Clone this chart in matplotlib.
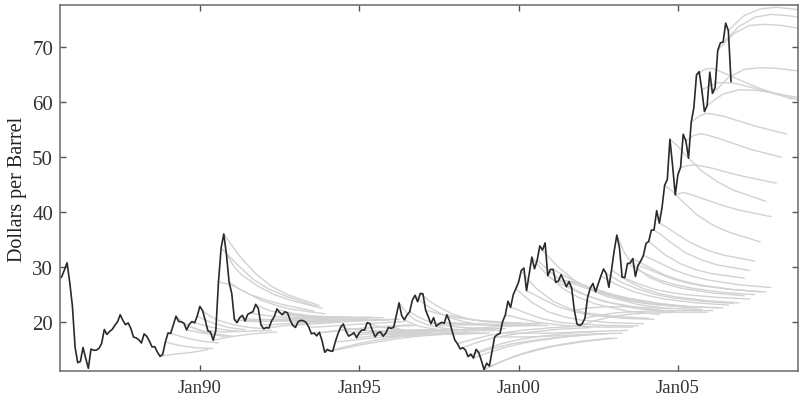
import matplotlib
matplotlib.use("Agg")
import matplotlib.pyplot as plt

plt.rcParams['font.family'] = ['Liberation Serif', 'DejaVu Serif']

# monthly spot price, Jul 1985 .. Sep 2006
spot_start = (1985, 7)
spot = [
    27.3, 27.8, 28.3, 29.5, 30.8, 27.2,
    22.93, 15.46, 12.61, 12.84, 15.38, 13.43, 11.59, 15.10, 14.87, 14.90, 15.22, 16.11,
    18.65, 17.75, 18.30, 18.68, 19.44, 20.07, 21.34, 20.31, 19.53, 19.86, 18.85, 17.28,
    17.13, 16.80, 16.20, 17.86, 17.42, 16.53, 15.50, 15.52, 14.54, 13.77, 14.14, 16.38,
    18.02, 17.94, 19.48, 21.07, 20.12, 20.05, 19.78, 18.58, 19.59, 20.10, 19.86, 21.10,
    22.86, 22.11, 20.39, 18.43, 18.20, 16.70, 18.45, 27.31, 33.51, 36.04, 32.33, 27.28,
    25.23, 20.48, 19.90, 20.83, 21.23, 20.19, 21.40, 21.69, 21.89, 23.23, 22.46, 19.50,
    18.79, 19.01, 18.92, 20.23, 20.98, 22.39, 21.78, 21.34, 21.88, 21.69, 20.34, 19.41,
    19.03, 20.09, 20.32, 20.25, 19.95, 19.09, 17.89, 18.01, 17.50, 18.15, 16.61, 14.52,
    15.03, 14.78, 14.68, 16.42, 17.89, 19.06, 19.66, 18.38, 17.45, 17.72, 18.07, 17.16,
    18.04, 18.57, 18.54, 19.90, 19.74, 18.45, 17.33, 18.02, 18.23, 17.43, 17.99, 19.03,
    18.85, 19.09, 21.33, 23.50, 21.17, 20.42, 21.30, 21.90, 23.97, 24.88, 23.71, 25.23,
    25.13, 22.18, 20.97, 19.70, 20.82, 19.26, 19.66, 19.95, 19.80, 21.33, 20.19, 18.33,
    16.72, 16.06, 15.12, 15.35, 14.91, 13.72, 14.17, 13.47, 15.03, 14.46, 13.00, 11.35,
    12.52, 12.01, 14.68, 17.31, 17.72, 17.92, 20.10, 21.28, 23.80, 22.69, 25.00, 26.10,
    27.26, 29.37, 29.84, 25.72, 28.79, 31.82, 29.70, 31.26, 33.88, 33.11, 34.42, 28.44,
    29.59, 29.61, 27.25, 27.49, 28.63, 27.60, 26.43, 27.37, 26.20, 22.17, 19.64, 19.39,
    19.72, 20.72, 24.53, 26.18, 27.04, 25.52, 26.97, 28.39, 29.66, 28.84, 26.35, 29.46,
    32.95, 35.83, 33.51, 28.17, 28.11, 30.66, 30.75, 31.57, 28.31, 30.34, 31.11, 32.13,
    34.31, 34.69, 36.74, 36.75, 40.28, 38.03, 40.78, 44.90, 45.94, 53.28, 48.47, 43.15,
    46.84, 48.15, 54.19, 52.98, 49.83, 56.35, 59.00, 64.99, 65.59, 62.26, 58.32, 59.41,
    65.49, 61.63, 62.69, 69.44, 70.84, 70.95, 74.41, 73.04, 63.80,
]

# futures curves: maturities in years (0 = spot that month)
maturities = [0, 0.25, 0.5, 1, 1.5, 2, 3, 4]
curve_months = [
    (1988, 10), (1988, 12),
    (1989, 2), (1989, 4), (1989, 6), (1989, 8), (1989, 10), (1989, 12),
    (1990, 2), (1990, 4), (1990, 6), (1990, 8), (1990, 9), (1990, 10), (1990, 11), (1990, 12),
    (1991, 2), (1991, 4), (1991, 6), (1991, 8), (1991, 10), (1991, 12),
    (1992, 2), (1992, 4), (1992, 6), (1992, 8), (1992, 10), (1992, 12),
    (1993, 2), (1993, 4), (1993, 6), (1993, 8), (1993, 10), (1993, 12),
    (1994, 2), (1994, 4), (1994, 6), (1994, 8), (1994, 10), (1994, 12),
    (1995, 2), (1995, 4), (1995, 6), (1995, 8), (1995, 10), (1995, 12),
    (1996, 2), (1996, 4), (1996, 6), (1996, 8), (1996, 10), (1996, 12),
    (1997, 2), (1997, 4), (1997, 6), (1997, 8), (1997, 10), (1997, 12),
    (1998, 2), (1998, 4), (1998, 6), (1998, 8), (1998, 10), (1998, 12),
    (1999, 2), (1999, 4), (1999, 6), (1999, 8), (1999, 10), (1999, 12),
    (2000, 2), (2000, 4), (2000, 6), (2000, 8), (2000, 10), (2000, 12),
    (2001, 2), (2001, 4), (2001, 6), (2001, 8), (2001, 10), (2001, 12),
    (2002, 2), (2002, 4), (2002, 6), (2002, 8), (2002, 10), (2002, 12),
    (2003, 2), (2003, 4), (2003, 6), (2003, 8), (2003, 10), (2003, 12),
    (2004, 2), (2004, 4), (2004, 6), (2004, 8), (2004, 10), (2004, 12),
    (2005, 2), (2005, 4), (2005, 6), (2005, 8), (2005, 10), (2005, 12),
    (2006, 2), (2006, 4), (2006, 6), (2006, 8),
]
curve_values = [
    [14.0, 14.2, 14.5, 15.0], [16.0, 15.7, 15.3, 15.2],
    [17.5, 17.1, 16.5, 16.2], [19.8, 19.0, 17.9, 17.4], [19.3, 18.7, 17.9, 17.5],
    [18.3, 18.0, 17.6, 17.4], [19.6, 19.2, 18.6, 18.3], [20.4, 19.8, 19.0, 18.6],
    [21.0, 20.3, 19.5, 19.0, 18.8], [18.3, 18.2, 18.3, 18.4, 18.5], [17.0, 17.3, 17.7, 18.0, 18.2],
    [27.0, 26.5, 25.0, 24.0, 23.2, 22.0], [32.0, 30.5, 27.8, 26.0, 24.8, 22.8],
    [34.0, 32.0, 28.8, 26.5, 25.0, 23.0], [30.0, 28.5, 26.5, 25.0, 24.0, 22.5],
    [26.3, 25.5, 24.0, 23.0, 22.3, 21.5],
    [20.3, 20.3, 20.4, 20.5, 20.6, 20.8], [20.6, 20.5, 20.5, 20.5, 20.6, 20.7],
    [20.1, 20.1, 20.2, 20.3, 20.4, 20.6], [21.4, 21.2, 20.9, 20.8, 20.8, 20.8],
    [22.5, 22.0, 21.4, 21.1, 21.0, 20.9], [19.5, 19.6, 19.8, 20.0, 20.2, 20.5],
    [19.1, 19.3, 19.6, 19.9, 20.1, 20.4], [20.2, 20.2, 20.2, 20.3, 20.4, 20.6],
    [21.9, 21.6, 21.2, 21.0, 20.9, 20.9], [21.2, 21.1, 20.9, 20.8, 20.8, 20.8],
    [21.4, 21.2, 20.9, 20.8, 20.8, 20.8], [19.5, 19.6, 19.8, 20.0, 20.2, 20.4],
    [20.0, 20.0, 20.1, 20.2, 20.3, 20.5], [20.2, 20.2, 20.2, 20.3, 20.4, 20.5],
    [19.1, 19.2, 19.4, 19.6, 19.8, 20.1], [18.1, 18.3, 18.6, 18.9, 19.1, 19.5],
    [18.2, 18.4, 18.7, 18.9, 19.1, 19.4], [14.9, 15.3, 16.0, 16.6, 17.1, 17.9],
    [15.0, 15.3, 15.9, 16.4, 16.9, 17.6], [16.5, 16.7, 17.0, 17.3, 17.6, 18.1],
    [18.8, 18.6, 18.4, 18.4, 18.5, 18.7], [18.2, 18.1, 18.1, 18.2, 18.3, 18.5],
    [17.7, 17.8, 18.0, 18.2, 18.3, 18.5], [17.3, 17.5, 17.8, 18.0, 18.2, 18.4],
    [18.4, 18.3, 18.2, 18.2, 18.3, 18.5], [19.4, 19.0, 18.6, 18.5, 18.5, 18.6],
    [18.2, 18.0, 17.9, 17.9, 18.0, 18.2], [17.8, 17.7, 17.7, 17.8, 17.9, 18.1],
    [17.4, 17.4, 17.5, 17.6, 17.8, 18.0], [18.6, 18.3, 18.0, 17.9, 17.9, 18.0],
    [18.6, 18.3, 17.9, 17.8, 17.8, 18.0], [21.6, 20.4, 19.3, 18.8, 18.6, 18.6],
    [19.7, 19.2, 18.7, 18.5, 18.4, 18.5], [21.0, 20.3, 19.5, 19.1, 18.9, 18.8],
    [23.5, 22.5, 21.0, 20.1, 19.6, 19.2], [24.0, 23.0, 21.5, 20.6, 20.1, 19.6],
    [21.8, 21.4, 20.8, 20.4, 20.1, 19.8], [19.8, 19.8, 19.7, 19.6, 19.5, 19.4],
    [19.4, 19.5, 19.5, 19.5, 19.5, 19.5], [19.9, 19.8, 19.7, 19.6, 19.5, 19.5],
    [21.0, 20.7, 20.3, 20.1, 19.9, 19.7], [18.6, 18.8, 19.0, 19.2, 19.3, 19.4],
    [16.5, 16.9, 17.6, 18.1, 18.5, 19.0, 19.3], [15.9, 16.4, 17.2, 17.7, 18.1, 18.7, 19.0],
    [14.4, 15.0, 16.0, 16.7, 17.2, 17.9, 18.3], [14.0, 14.5, 15.4, 16.1, 16.6, 17.4, 17.9],
    [14.9, 15.3, 16.0, 16.5, 16.9, 17.5, 17.9], [12.0, 12.7, 13.9, 14.8, 15.5, 16.5, 17.1],
    [12.5, 13.1, 14.1, 14.9, 15.6, 16.5, 17.1], [17.3, 17.3, 17.3, 17.4, 17.5, 17.8, 18.0],
    [18.0, 18.0, 18.0, 18.0, 18.1, 18.3, 18.5], [21.0, 20.6, 20.0, 19.6, 19.3, 19.1, 19.1],
    [22.2, 21.6, 20.6, 20.0, 19.7, 19.4, 19.3], [24.8, 23.6, 21.9, 21.0, 20.4, 19.9, 19.7],
    [27.5, 26.0, 23.8, 22.5, 21.7, 21.0, 20.7], [25.0, 24.2, 22.8, 21.9, 21.3, 20.7, 20.5],
    [30.0, 28.5, 26.0, 24.4, 23.3, 22.0, 21.4], [30.0, 28.7, 26.5, 25.0, 23.9, 22.6, 21.9],
    [31.5, 30.0, 27.6, 25.9, 24.7, 23.2, 22.4], [27.5, 26.7, 25.3, 24.3, 23.5, 22.5, 21.9],
    [28.8, 28.0, 26.6, 25.5, 24.7, 23.5, 22.8], [27.3, 26.9, 25.9, 25.0, 24.3, 23.3, 22.7],
    [27.4, 27.0, 26.0, 25.1, 24.4, 23.4, 22.8], [27.1, 26.6, 25.6, 24.8, 24.1, 23.2, 22.6],
    [22.4, 22.6, 22.8, 22.8, 22.7, 22.5, 22.3], [19.8, 20.3, 21.0, 21.4, 21.6, 21.8, 21.8],
    [21.0, 21.3, 21.7, 21.9, 22.0, 22.1, 22.1], [25.8, 25.2, 24.2, 23.6, 23.2, 22.8, 22.6],
    [25.2, 24.8, 24.0, 23.5, 23.1, 22.8, 22.6], [27.6, 26.8, 25.6, 24.8, 24.2, 23.5, 23.1],
    [28.0, 27.2, 26.0, 25.1, 24.5, 23.8, 23.4], [28.5, 27.5, 26.1, 25.2, 24.6, 23.9, 23.5],
    [32.5, 30.5, 28.2, 27.0, 26.2, 25.3, 24.8], [27.6, 27.0, 26.0, 25.4, 25.0, 24.5, 24.2],
    [29.8, 29.0, 27.7, 26.8, 26.2, 25.4, 25.0], [30.8, 30.0, 28.6, 27.6, 26.9, 26.0, 25.5],
    [29.8, 29.2, 28.0, 27.2, 26.6, 25.9, 25.5], [31.5, 30.8, 29.4, 28.4, 27.7, 26.8, 26.3],
    [33.5, 32.3, 30.6, 29.5, 28.8, 28.0], [35.8, 34.6, 32.6, 31.3, 30.4, 29.4],
    [37.2, 36.2, 34.4, 33.1, 32.2, 31.1], [43.8, 42.3, 39.6, 37.7, 36.4, 34.6],
    [52.0, 50.3, 47.5, 45.5, 44.0, 42.0], [43.6, 43.2, 42.2, 41.2, 40.4, 39.2],
    [48.5, 48.6, 48.0, 47.2, 46.5, 45.3], [54.0, 54.3, 53.5, 52.5, 51.5, 50.0],
    [57.5, 58.0, 57.5, 56.6, 55.7, 54.2], [66.0, 66.2, 65.0, 63.7, 62.5, 60.6],
    [63.0, 63.6, 63.5, 62.8, 62.0, 60.5], [60.5, 61.5, 62.3, 62.2, 61.8, 60.7],
    [63.0, 64.5, 66.0, 66.3, 66.2, 65.5], [71.0, 72.5, 74.0, 74.2, 74.0, 73.0],
    [72.3, 73.8, 75.5, 76.0, 75.8, 75.0], [74.5, 75.8, 77.0, 77.3, 77.0, 76.2],
]

year_ticks = [1990, 1995, 2000, 2005]
year_labels = ['Jan90', 'Jan95', 'Jan00', 'Jan05']
price_ticks = [20, 30, 40, 50, 60, 70]


def month_pos(year, month):
    return year + (month - 1) / 12.0


t0 = month_pos(*spot_start)
spot_x = [t0 + i / 12.0 for i in range(len(spot))]

fig = plt.figure(figsize=(8.04, 4.06), dpi=100)
ax = fig.add_axes([0.0746, 0.0837, 0.918, 0.9013])

# futures curves first, spot on top
for (yr, mo), vals in zip(curve_months, curve_values):
    start = month_pos(yr, mo)
    idx = (yr - spot_start[0]) * 12 + (mo - spot_start[1])
    xs = [start + m for m in maturities[:len(vals) + 1]]
    ys = [spot[idx]] + vals
    ax.plot(xs, ys, color='#d2d2d2', linewidth=1.0, solid_capstyle='round')

ax.plot(spot_x, spot, color='#2a2a2a', linewidth=1.2)

ax.set_xlim(1985.61, 2008.77)
ax.set_ylim(11.1, 77.7)
ax.set_xticks(year_ticks)
ax.set_xticklabels(year_labels)
ax.set_yticks(price_ticks)
ax.set_ylabel('Dollars per Barrel', fontsize=14.5, labelpad=4, color='#222222')

ax.tick_params(direction='in', length=4, width=1, color='#555555',
               top=True, right=True, labelcolor='#333333')
ax.tick_params(axis='x', labelsize=13.5, pad=6)
ax.tick_params(axis='y', labelsize=15, pad=5)
for side in ax.spines.values():
    side.set_color('#6a6a6a')
    side.set_linewidth(1.1)

fig.savefig('out.png', dpi=100)
